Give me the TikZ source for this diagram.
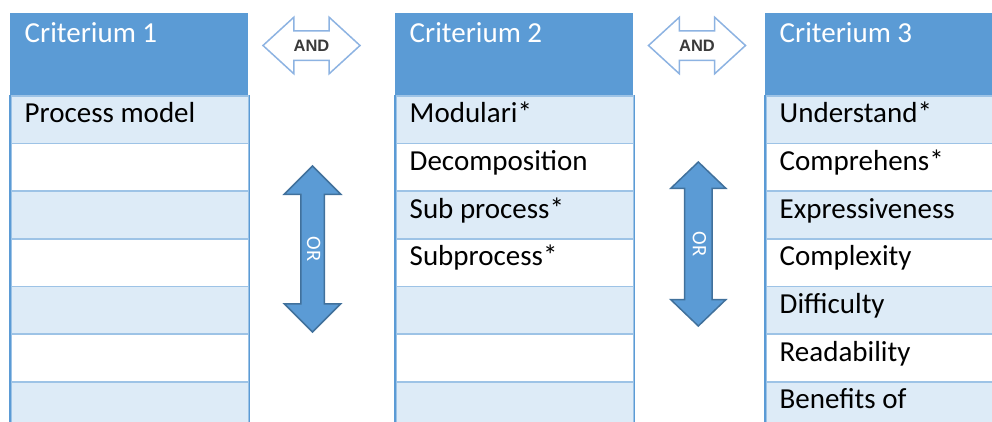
\documentclass[tikz,border=0pt]{standalone}
\usepackage{fontspec}
\setmainfont{Carlito}
\newfontfamily\andfont{Liberation Sans}
\usetikzlibrary{shapes.arrows}
\definecolor{hdrblue}{HTML}{5B9BD5}
\definecolor{rowlight}{HTML}{DDEBF7}
\definecolor{rowline}{HTML}{9DC3E6}
\definecolor{andline}{HTML}{8DB3E2}
\definecolor{ordraw}{HTML}{41719C}
\definecolor{andtext}{HTML}{3A3A3A}
\tikzset{
  hdrcell/.style={anchor=north west, fill=hdrblue, minimum width=238, minimum height=82, inner sep=0},
  rowcell/.style={anchor=north west, draw=rowline, line width=1.6, minimum width=238, minimum height=47.67, inner sep=0},
  sideedge/.style={draw=hdrblue, line width=1.6},
  hdrtxt/.style={anchor=base west, inner sep=0, text=white, font=\fontsize{29}{34}\selectfont},
  celltxt/.style={anchor=base west, inner sep=0, text=black, font=\fontsize{29}{34}\selectfont},
  andarrow/.style={double arrow, draw=andline, fill=white, line width=1.5,
    minimum height=97, minimum width=55, double arrow head extend=13.5,
    double arrow tip angle=85, text height=12, text depth=0, inner ysep=8, inner xsep=2,
    text=andtext, font=\andfont\bfseries\fontsize{16.5}{18}\selectfont},
  orarrow/.style={double arrow, draw=ordraw, fill=hdrblue, line width=1.5,
    minimum height=166, minimum width=55, double arrow head extend=16.5,
    double arrow tip angle=90, text height=11, text depth=0, inner ysep=5.5, inner xsep=2,
    text=white, font=\fontsize{20.5}{24}\selectfont, rotate=-90},
}
\begin{document}
\begin{tikzpicture}[x=1pt, y=-1pt]
\useasboundingbox (0,0) rectangle (992,421);
\clip (0,0) rectangle (992,421);

% three criteria tables: header plus seven rows each
\foreach \tx/\tn in {10/1, 395/2, 765/3} {
  \node[hdrcell] (h\tn) at (\tx,13) {};
  \foreach \r in {1,...,7} {
    \pgfmathsetmacro\rowfill{isodd(\r) ? "rowlight" : "white"}
    \node[rowcell, fill=\rowfill] (r\tn-\r) at (\tx,{95+(\r-1)*47.667}) {};
  }
  \draw[sideedge] (r\tn-1.north west) -- (r\tn-7.south west);
  \draw[sideedge] (r\tn-1.north east) -- (r\tn-7.south east);
  \node[hdrtxt] at ([shift={(14.5,29.7)}]h\tn.north west) {Criterium \tn};
}

% table entries
\node[celltxt] (p1) at ([shift={(14.5,27.7)}]r1-1.north west) {Process model};

\node[celltxt] (m1) at ([shift={(14.5,27.7)}]r2-1.north west) {Modulari*};
\node[celltxt] (m2) at ([shift={(14.5,27.7)}]r2-2.north west) {Decomposition};
\node[celltxt] (m3) at ([shift={(14.5,27.7)}]r2-3.north west) {Sub process*};
\node[celltxt] (m4) at ([shift={(14.5,27.7)}]r2-4.north west) {Subprocess*};

\node[celltxt] (u1) at ([shift={(14.5,27.7)}]r3-1.north west) {Understand*};
\node[celltxt] (u2) at ([shift={(14.5,27.7)}]r3-2.north west) {Comprehens*};
\node[celltxt] (u3) at ([shift={(14.5,27.7)}]r3-3.north west) {Expressiveness};
\node[celltxt] (u4) at ([shift={(14.5,27.7)}]r3-4.north west) {Complexity};
\node[celltxt] (u5) at ([shift={(14.5,27.7)}]r3-5.north west) {Difficulty};
\node[celltxt] (u6) at ([shift={(14.5,27.7)}]r3-6.north west) {Readability};
\node[celltxt] (u7) at ([shift={(14.5,27.7)}]r3-7.north west) {Benefits of};

% AND / OR connectors between the tables
\node[andarrow] (and1) at (311.5,45.5) {AND};
\node[andarrow] (and2) at (697,45.5) {AND};
\node[orarrow] (or1) at (312.5,249) {OR};
\node[orarrow, minimum height=164, minimum width=53.5, inner ysep=7.5,
  double arrow head extend=13.75, double arrow tip angle=92.5] (or2) at (698.3,244) {OR};
\end{tikzpicture}
\end{document}
